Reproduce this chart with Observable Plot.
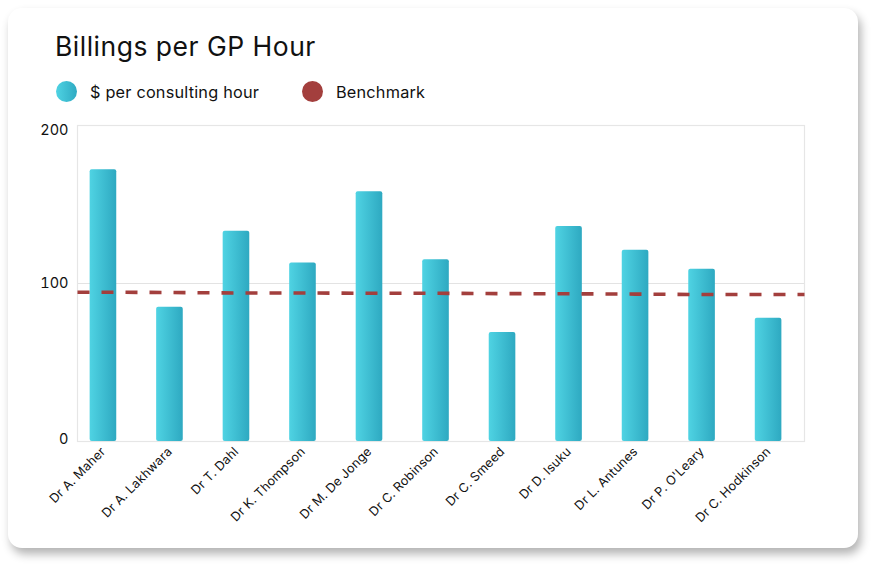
<!DOCTYPE html>
<html>
<head>
<meta charset="utf-8">
<script src="https://cdn.jsdelivr.net/npm/d3@7"></script>
<script src="https://cdn.jsdelivr.net/npm/@observablehq/plot@0.6"></script>
<style>
  html, body { margin: 0; padding: 0; background: #ffffff; }
  body { width: 882px; height: 571px; position: relative; overflow: hidden; font-family: "Inter", "Lato", sans-serif; }
  #card { position: absolute; left: 8px; top: 8px; width: 850px; height: 540px; background: #fff; border-radius: 14px;
          box-shadow: 3px 6px 10px rgba(0,0,0,0.3); }
  #title { position: absolute; left: 47px; top: 22px; font-size: 26.5px; color: #111; font-weight: 400; letter-spacing: 0.5px; }
  .leg { position: absolute; top: 73px; display: flex; align-items: center; font-size: 16.3px; color: #111; letter-spacing: 0.2px; }
  .dot { width: 21px; height: 21px; border-radius: 50%; margin-right: 13px; }
  #chart { position: absolute; left: 0; top: 100px; }
</style>
</head>
<body>
<div id="card">
  <div id="title">Billings per GP Hour</div>
  <div class="leg" style="left:48px"><div class="dot" style="background:linear-gradient(90deg,#4fd3e3,#2eaac2)"></div>$ per consulting hour</div>
  <div class="leg" style="left:294px"><div class="dot" style="background:#a33f3d"></div>Benchmark</div>
  <div id="chart"></div>
</div>
<script>
const doctors = ["Dr A. Maher","Dr A. Lakhwara","Dr T. Dahl","Dr K. Thompson","Dr M. De Jonge","Dr C. Robinson","Dr C. Smeed","Dr D. Isuku","Dr L. Antunes","Dr P. O'Leary","Dr C. Hodkinson"];
const perHour = [172, 85, 133, 113, 158, 115, 69, 136, 121, 109, 78];
const benchmark = [94.5, 94.3, 94, 94, 93.8, 93.8, 93.6, 93.5, 93.3, 93, 93];
const yTicks = [0, 100, 200];

const data = doctors.map((d, i) => ({i, doctor: d, value: perHour[i], bench: benchmark[i]}));
const n = doctors.length;
const half = 0.2;
const x0 = -0.39, x1 = n - 1 + 0.54;
// benchmark line runs across the full plot width, holding end values at the edges
const benchLine = [{x: x0, y: benchmark[0]}, ...data.map(d => ({x: d.i, y: d.bench})), {x: x1, y: benchmark[n - 1]}];

const svg = Plot.plot({
  width: 850,
  height: 440,
  marginLeft: 69,
  marginRight: 54,
  marginTop: 17,
  marginBottom: 107,
  style: {fontFamily: "Inter, Lato, sans-serif", fontSize: "13px", color: "#111", background: "transparent", overflow: "visible"},
  x: {type: "linear", domain: [x0, x1], ticks: d3.range(n), tickFormat: i => doctors[i], label: null,
      tickRotate: -45, tickSize: 0, tickPadding: 8},
  y: {domain: [0, 200], ticks: yTicks, label: null, tickSize: 0, tickPadding: 9},
  marks: [
    Plot.ruleY([100], {stroke: "#e3e3e3", strokeWidth: 1.2}),
    Plot.frame({stroke: "#e6e6e6", strokeWidth: 1.2}),
    Plot.rectY(data, {x1: d => d.i - half, x2: d => d.i + half, y: "value", fill: "url(#barGrad)", rx: 2}),
    Plot.line(benchLine, {x: "x", y: "y", stroke: "#a33f3d", strokeWidth: 3.6, strokeDasharray: "12,12", strokeLinecap: "butt"})
  ]
});

const yLab = d3.select(svg).selectAll("g[aria-label='y-axis tick label']").style("font-size", "14.5px");
// nudge end labels inward as in the reference
yLab.selectAll("text").each(function() {
  const t = d3.select(this);
  const txt = t.text();
  if (txt === "0") t.attr("dy", "-0.15em");
  if (txt === "200") t.attr("dy", "0.3em");
});
d3.select(svg).selectAll("g[aria-label='x-axis tick label']").style("font-size", "12.6px").style("letter-spacing", "0.2px");

const defs = d3.select(svg).insert("defs", ":first-child");
const g = defs.append("linearGradient").attr("id", "barGrad").attr("x1", "0").attr("x2", "1").attr("y1", "0").attr("y2", "0");
g.append("stop").attr("offset", "0%").attr("stop-color", "#4fd3e3");
g.append("stop").attr("offset", "100%").attr("stop-color", "#2ea9c1");

document.getElementById("chart").appendChild(svg);
</script>
</body>
</html>
